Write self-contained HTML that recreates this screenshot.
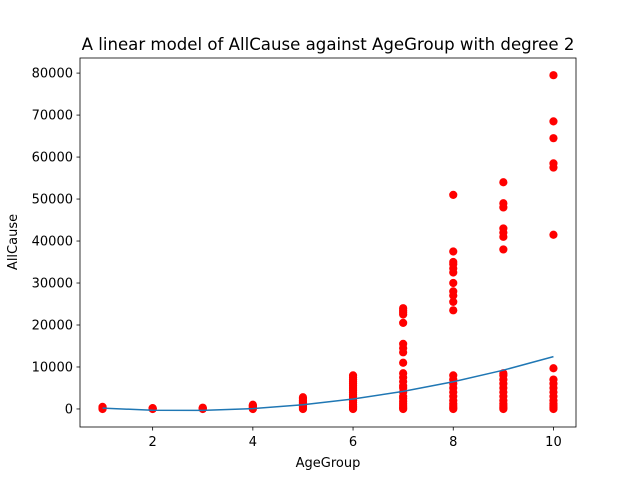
<!DOCTYPE html>
<html><head><meta charset="utf-8"><style>
body{margin:0;background:#fff;font-family:"Liberation Sans","DejaVu Sans",sans-serif}
svg text{font-family:"DejaVu Sans","Liberation Sans",sans-serif;font-size:13px;fill:#000}
</style></head><body>
<svg id="chart" width="640" height="480" xmlns="http://www.w3.org/2000/svg">
<rect width="640" height="480" fill="#fff"/>
<text x="328" y="50" text-anchor="middle" style="font-size:16.6px">A linear model of AllCause against AgeGroup with degree 2</text>
<text x="328" y="467" text-anchor="middle">AgeGroup</text>
<text transform="translate(17,242) rotate(-90)" text-anchor="middle">AllCause</text>
<g id="ticks"></g>
<g id="points"></g>
<path id="fit" fill="none" stroke="#1f77b4" stroke-width="1.5"/>
<rect x="80" y="58" width="496" height="369" fill="none" stroke="#000" stroke-width="0.8"/>
</svg>
<script>
const xTicks=[2,4,6,8,10];
const yTicks=[0,10000,20000,30000,40000,50000,60000,70000,80000];
const groups=[1,2,3,4,5,6,7,8,9,10];
const allCause=[
[0,100,200,300,400,500],
[0,50,100,150,200],
[0,100,200,300],
[0,200,400,600,800,1000],
[0,300,600,900,1200,1500,1800,2100,2500,2800],
[0,300,600,1000,1500,2000,2500,3000,3500,4000,4500,5000,5500,6000,6500,7000,7500,8000],
[0,300,700,1200,1800,2500,3000,4000,5000,5500,6500,7500,8500,11000,13500,14500,15500,20500,22500,23000,23500,24000],
[0,300,700,1200,2000,3000,4000,5000,6000,7000,8000,23500,25500,27000,28000,30000,32500,33500,34500,35000,37500,51000],
[0,300,700,1200,2000,3000,4000,5000,6000,7000,8000,8500,38000,41000,42000,43000,48000,49000,54000],
[0,300,700,1200,2000,3000,4000,5000,6000,7000,9700,41500,57500,58500,64500,68500,79500]
];
const fitValues=[200,-300,-336,95,992,2367,4184,6479,9240,12467];
const xMin=0.55,xMax=10.45,yMin=-4295,yMax=83595;
const L=80,R=576,T=58,B=427;
const sx=v=>L+(v-xMin)/(xMax-xMin)*(R-L);
const sy=v=>B-(v-yMin)/(yMax-yMin)*(B-T);
const NS="http://www.w3.org/2000/svg";
const tg=document.getElementById('ticks');
function mk(tag,attrs,parent){const e=document.createElementNS(NS,tag);for(const k in attrs)e.setAttribute(k,attrs[k]);parent.appendChild(e);return e;}
xTicks.forEach(t=>{
const l=mk('line',{x1:sx(t),x2:sx(t),y1:B,y2:B+3.5,stroke:'#000','stroke-width':0.8},tg);


const tx=mk('text',{x:sx(t),y:B+19,'text-anchor':'middle'},tg);tx.textContent=t;


});
yTicks.forEach(t=>{
const l=mk('line',{x1:L-3.5,x2:L,y1:sy(t),y2:sy(t),stroke:'#000','stroke-width':0.8},tg);


const tx=mk('text',{x:L-7,y:sy(t)+4.5,'text-anchor':'end'},tg);tx.textContent=t;


});
const pg=document.getElementById('points');
groups.forEach((g,i)=>allCause[i].forEach(v=>{
const c=mk('circle',{cx:sx(g),cy:sy(v),r:4.1,fill:'#ff0000'},pg);


}));
document.getElementById('fit').setAttribute('d',groups.map((g,i)=>(i?'L':'M')+sx(g)+','+sy(fitValues[i])).join(' '));
</script>
</body></html>
